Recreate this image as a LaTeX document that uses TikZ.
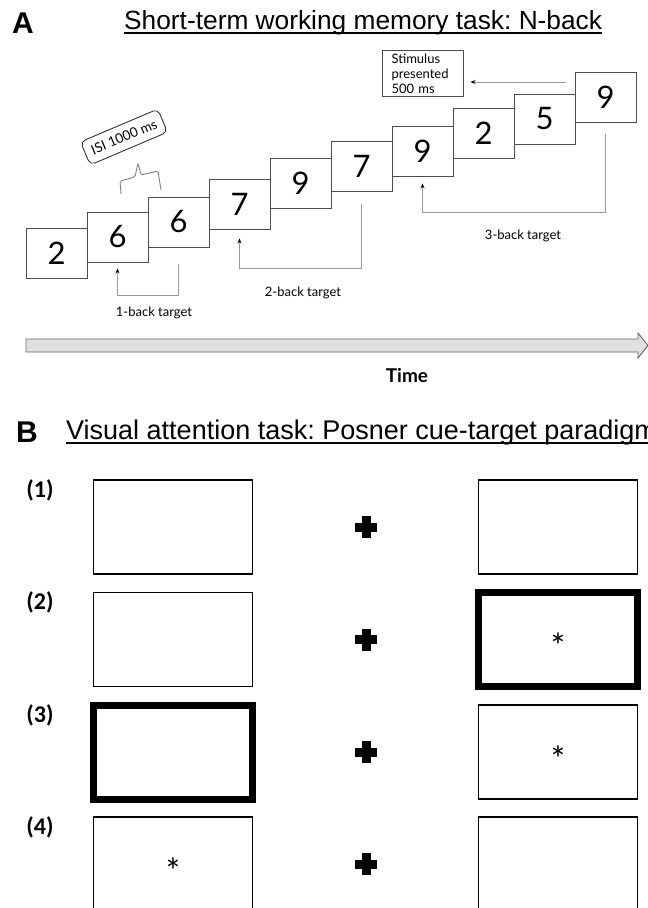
\documentclass[tikz,border=0pt]{standalone}
\usepackage{fontspec}
\setmainfont{Lato}
\newfontfamily\arialfont{Liberation Sans}
\newfontfamily\calfont{Carlito}
\usetikzlibrary{calc,positioning,arrows.meta}

\tikzset{
  numbox/.style={draw=black!70, line width=0.9pt, minimum width=61pt, minimum height=50pt, inner sep=0pt, font=\fontsize{31}{31}\selectfont},
  backarrow/.style={draw=black!40, line width=0.9pt, -{Stealth[black, length=5pt, width=4pt]}},
  tasklabel/.style={inner sep=0pt, font=\fontsize{13}{15}\selectfont},
  headtext/.style={inner sep=0pt, anchor=base west, font=\arialfont\fontsize{26.3}{27}\selectfont},
  panel/.style={inner sep=0pt, anchor=base west, font=\arialfont\bfseries\fontsize{30}{30}\selectfont},
  cuebox/.style={draw, minimum width=159pt, minimum height=94pt, inner sep=0pt},
  plainedge/.style={line width=1.3pt},
  boldedge/.style={line width=7pt},
  rowlabel/.style={inner sep=0pt, font=\calfont\bfseries\fontsize{24}{24}\selectfont},
  astx/.style={inner sep=0pt, font=\calfont\fontsize{36}{36}\selectfont}
}

\begin{document}
\frenchspacing
\begin{tikzpicture}[x=1pt, y=-1pt]
  \useasboundingbox (0,0) rectangle (648,908);

  % panel A
  \node[panel] (labA) at (12,33) {A};
  \node[headtext] (tA) at (124,29) {Short-term working memory task: N-back};
  \draw[line width=1.4pt] ($(tA.base west)+(0,4)$) -- ($(tA.base east)+(0,4)$);

  \foreach \d/\t [count=\i] in {2/228, 6/212, 6/197, 7/179, 9/158, 7/141, 9/126, 2/108, 5/94, 9/72}
    \node[numbox] (n\i) at ({61*\i-4.5},{\t+25}) {\d};

  \draw[backarrow] ($(n3.south)+(0,17)$) -- ++(0,31) -| ($(n2.south)+(0,6)$);
  \draw[backarrow] ($(n6.south)+(0,13)$) -- ++(0,64) -| ($(n4.south)+(0,9)$);
  \draw[backarrow] ($(n10.south)+(0,12)$) -- ++(0,78) -| ($(n7.south)+(0,7)$);
  \node[tasklabel] (t1) at (154,313) {1-back target};
  \node[tasklabel] (t2) at (303,293) {2-back target};
  \node[tasklabel] (t3) at (523,236) {3-back target};

  \node[draw=black!70, line width=0.9pt, minimum width=81pt, minimum height=46pt, text width=62pt, align=left, inner sep=0pt,
    font=\fontsize{13}{15}\selectfont] (stim) at (422.5,73.5) {Stimulus\\presented\\500 ms};
  \coordinate (sa) at (566,82);
  \draw[draw=black!40, line width=0.9pt, -{Stealth[black, length=5pt, width=4pt]}, shorten >=7pt] (sa) -- (sa -| stim.east);

  \node[draw=black!80, line width=0.9pt, rounded corners=5pt, rotate=23, minimum width=84pt, minimum height=25pt, inner sep=0pt,
    font=\fontsize{13.5}{15}\selectfont] (isi) at (124,137) {ISI 1000 ms};
  \coordinate (br1) at (121,194);
  \coordinate (br2) at (161,190);
  \draw[black!50, line width=0.9pt, rounded corners=2pt] (br1) -- (120,181) -- (135,177) -- (138,163) -- (141,175) -- (158,171) -- (br2);

  \draw[fill=black!12, draw=black!60, line width=0.9pt] (26,339) -- (638,339) -- (638,333) -- (648,345.5) -- (638,358) -- (638,352) -- (26,352) -- cycle;
  \node[inner sep=0pt, font=\bfseries\fontsize{19}{19}\selectfont] (time) at (407,376) {Time};

  % panel B
  \node[panel] (labB) at (16,442) {B};
  \node[headtext, font=\arialfont\fontsize{27}{27}\selectfont] (tB) at (66,439) {Visual attention task: Posner cue-target paradigm};
  \draw[line width=1.4pt] ($(tB.base west)+(0,4)$) -- ($(tB.base east)+(0,4)$);

  \foreach \r/\yc/\lw/\rw in {1/527/plainedge/plainedge, 2/639.5/plainedge/boldedge, 3/752/boldedge/plainedge, 4/864/plainedge/plainedge} {
    \node[rowlabel] (lab\r) at (40,\yc-37) {(\r)};
    \node[cuebox, \lw] (L\r) at (173,\yc) {};
    \node[cuebox, \rw] (R\r) at (558,\yc) {};
    \coordinate (fx\r) at (366,\yc);
    \fill ($(fx\r)+(-11,-4.5)$) rectangle ($(fx\r)+(11,4.5)$);
    \fill ($(fx\r)+(-4.5,-11)$) rectangle ($(fx\r)+(4.5,11)$);
  }
  \node[astx] (s2) at ($(R2.center)+(0,6.6)$) {*};
  \node[astx] (s3) at ($(R3.center)+(0,6.6)$) {*};
  \node[astx] (s4) at ($(L4.center)+(0,6.6)$) {*};
\end{tikzpicture}
\end{document}
